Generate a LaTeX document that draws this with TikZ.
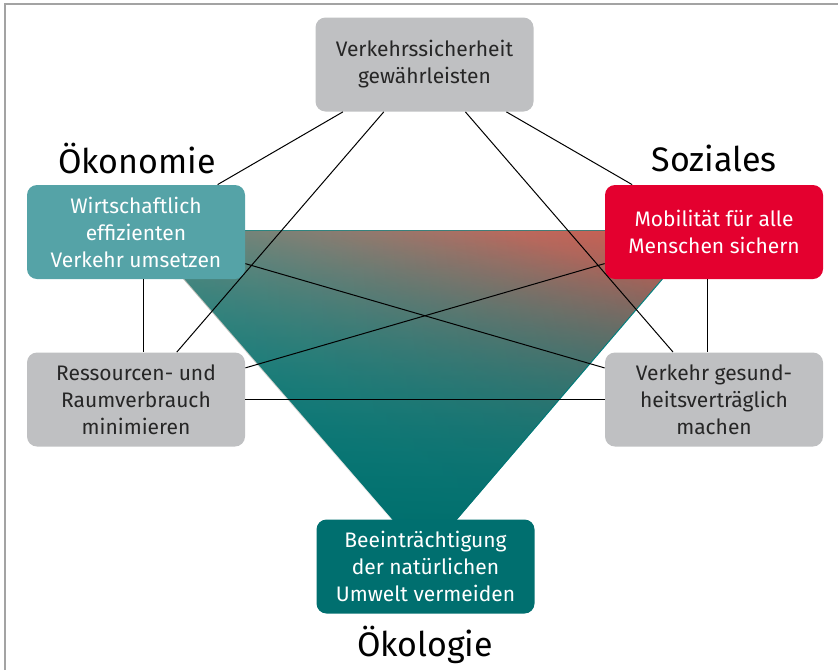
\documentclass[tikz,border=0pt]{standalone}
\usepackage{fontspec}
\setmainfont{Fira Sans}
\usetikzlibrary{calc,shadings,fadings}

\definecolor{boxgray}{HTML}{BFC0C2}
\definecolor{tealdark}{HTML}{006F6F}
\definecolor{teallight}{HTML}{55A3A7}
\definecolor{socialred}{HTML}{E4002F}
\definecolor{framegray}{HTML}{A3A3A3}
\definecolor{textdark}{HTML}{262626}
\definecolor{shadeUL}{HTML}{8C8E80}
\definecolor{shadeUR}{HTML}{D4574C}
\definecolor{shadeLL}{HTML}{4A8A84}
\definecolor{shadeLR}{HTML}{7A6258}
\definecolor{baseT}{HTML}{008786}
\definecolor{baseB}{HTML}{006D6C}

\tikzfading[name=redfade,top color=transparent!0,middle color=transparent!75,bottom color=transparent!100]
\tikzfading[name=tealfade,top color=transparent!100,middle color=transparent!80,bottom color=transparent!0]

\begin{document}
\begin{tikzpicture}[x=0.5pt,y=-0.5pt,
	box/.style={rounded corners=5pt,minimum width=109pt,minimum height=47pt,
		inner sep=0pt,align=center,font=\fontsize{10.5}{13.5}\selectfont},
	graybox/.style={box,fill=boxgray,text=textdark},
	colbox/.style={box,fill=#1,text=white},
	pillar/.style={font=\fontsize{17}{20}\selectfont,text=black},
	link/.style={line width=0.5pt,black}]
	\useasboundingbox (0,0) rectangle (838,670);
	\draw[framegray,line width=1pt] (5,670) -- (5,4) -- (838,4);
	\path
	(142,230) coordinate (K1)
	(705,230) coordinate (K2)
	(425,557) coordinate (K3)
	%\coordinate (M) at ($(K1)!.5!(K2)$)
	;
	\shade[top color=baseT,bottom color=baseB] (K1) -- (K2) -- (K3) -- cycle;
	\shade[upper left=shadeUL,upper right=shadeUR,lower left=shadeLL,lower right=shadeLR,
		path fading=redfade,fading angle=-30] (K1) -- (K2) -- (K3) -- cycle;
	\shade[top color=baseT,bottom color=baseB,path fading=tealfade] (K1) -- (K2) -- (K3) -- cycle;
	\def\dx{7}
	\node[graybox] (sicherheit) at (424.5,64.5) {Verkehrssicherheit\\gewährleisten};
	\node[colbox=teallight] (wirtschaft) at (136,232) {Wirtschaftlich\\effizienten\\Verkehr umsetzen};
	\node[graybox] (ressourcen) at (136,399.5) {Ressourcen- und\\Raumverbrauch\\minimieren};
	\node[colbox=socialred] (mobil) at (714,232) {Mobilität für alle\\Menschen sichern};
	\node[graybox] (gesund) at (714,399.5) {Verkehr gesund-\\heitsverträglich\\machen};
	\node[colbox=tealdark] (umwelt) at (425.5,566.5) {Beeinträchtigung\\der natürlichen\\Umwelt vermeiden};
	\node[pillar] (oekonomie) at (137,158) {Ökonomie};
	\node[pillar] (soziales) at (714,158) {Soziales};
	\node[pillar] (oekologie) at (425,645) {Ökologie};
	\draw[link] (sicherheit) -- (wirtschaft);
	\draw[link] (sicherheit) -- (ressourcen);
	\draw[link] (sicherheit) -- (gesund);
	\draw[link] (sicherheit) -- (mobil);
	\draw[link] (wirtschaft) -- (gesund);
	\draw[link] (ressourcen) -- (mobil);
	\draw[link] (ressourcen) -- (gesund);
	\draw[link] ([xshift=\dx*0.5pt]wirtschaft.south) -- ([xshift=\dx*0.5pt]ressourcen.north);
	\draw[link] ([xshift=-\dx*0.5pt]mobil.south) -- ([xshift=-\dx*0.5pt]gesund.north);
\end{tikzpicture}
\end{document}
